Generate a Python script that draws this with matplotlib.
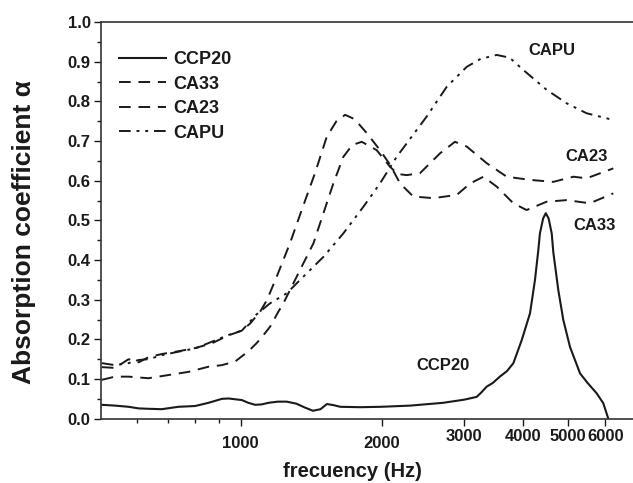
import matplotlib
matplotlib.use('Agg')
import matplotlib.pyplot as plt
from matplotlib.ticker import FixedLocator, MultipleLocator, NullFormatter
from matplotlib.transforms import ScaledTranslation

plt.rcParams['font.family'] = ['Liberation Sans', 'DejaVu Sans']
plt.rcParams['font.weight'] = 'bold'

# Datos (frecuencia en Hz, coeficiente de absorción)
ccp20_f = [505, 539, 576, 605, 635, 678, 736, 799, 853, 911, 941, 972, 1005, 1038,
           1073, 1108, 1145, 1200, 1253, 1313, 1371, 1426, 1480, 1527, 1580, 1630,
           1800, 1990, 2300, 2700, 3000, 3188, 3260, 3350, 3450, 3572, 3700, 3818,
           3978, 4144, 4246, 4316, 4350, 4420, 4477, 4540, 4610, 4646, 4762, 4880,
           5043, 5300, 5500, 5750, 5940, 6088]
ccp20_a = [0.035, 0.033, 0.030, 0.026, 0.025, 0.024, 0.030, 0.032, 0.040, 0.050,
           0.051, 0.049, 0.047, 0.040, 0.035, 0.036, 0.040, 0.043, 0.043, 0.038,
           0.028, 0.020, 0.024, 0.037, 0.034, 0.030, 0.029, 0.030, 0.033, 0.040,
           0.048, 0.055, 0.066, 0.081, 0.090, 0.106, 0.120, 0.140, 0.198, 0.266,
           0.350, 0.425, 0.467, 0.505, 0.518, 0.505, 0.467, 0.420, 0.324, 0.249,
           0.181, 0.114, 0.090, 0.064, 0.039, 0.000]

ca33_f = [505, 539, 576, 605, 635, 678, 736, 799, 867, 941, 1005, 1047, 1100, 1137,
          1193, 1274, 1349, 1440, 1526, 1600, 1670, 1750, 1857, 1982, 2083, 2188,
          2335, 2577, 2890, 3087, 3295, 3518, 3818, 4074, 4497, 4963, 5560, 6239]
ca33_a = [0.130, 0.128, 0.150, 0.142, 0.155, 0.163, 0.170, 0.178, 0.190, 0.210,
          0.222, 0.240, 0.270, 0.299, 0.358, 0.443, 0.526, 0.619, 0.711, 0.750,
          0.766, 0.755, 0.720, 0.677, 0.640, 0.593, 0.560, 0.556, 0.564, 0.593,
          0.610, 0.585, 0.543, 0.526, 0.547, 0.551, 0.543, 0.568]

ca23_f = [505, 539, 576, 635, 700, 773, 853, 911, 972, 1038, 1080, 1108, 1155, 1203,
          1233, 1338, 1429, 1501, 1576, 1655, 1730, 1812, 1950, 2083, 2160, 2260,
          2413, 2663, 2865, 3036, 3350, 3695, 4143, 4645, 5127, 5472, 6239]
ca23_a = [0.098, 0.106, 0.106, 0.102, 0.110, 0.118, 0.131, 0.135, 0.144, 0.170,
          0.190, 0.205, 0.232, 0.270, 0.291, 0.375, 0.442, 0.518, 0.593, 0.660,
          0.690, 0.698, 0.677, 0.635, 0.617, 0.614, 0.619, 0.669, 0.698, 0.686,
          0.644, 0.610, 0.602, 0.597, 0.610, 0.606, 0.631]

capu_f = [505, 539, 576, 605, 635, 678, 736, 799, 867, 941, 1005, 1047, 1073, 1155,
          1253, 1360, 1501, 1655, 1826, 1982, 2151, 2260, 2491, 2753, 3036, 3250,
          3518, 3750, 4010, 4497, 4963, 5472, 6239]
capu_a = [0.140, 0.135, 0.140, 0.148, 0.150, 0.160, 0.169, 0.177, 0.194, 0.211,
          0.222, 0.245, 0.260, 0.291, 0.316, 0.358, 0.408, 0.467, 0.534, 0.593,
          0.660, 0.694, 0.761, 0.837, 0.887, 0.907, 0.917, 0.910, 0.879, 0.829,
          0.795, 0.770, 0.753]

x_ticks = [1000, 2000, 3000, 4000, 5000, 6000]
x_minor = [600, 700, 800, 900]

ink = '#1a1a1a'

fig = plt.figure(figsize=(6.33, 4.83), dpi=100, facecolor='white')
ax = fig.add_axes([101 / 633, 64.3 / 483, 532 / 633, 396.7 / 483])

ax.plot(ccp20_f, ccp20_a, color=ink, lw=1.5, ls='-', label='CCP20')
ax.plot(ca33_f, ca33_a, color=ink, lw=1.4, ls=(0, (6, 4)), label='CA33')
ax.plot(ca23_f, ca23_a, color=ink, lw=1.4, ls=(0, (6, 4)), label='CA23')
ax.plot(capu_f, capu_a, color=ink, lw=1.4, ls=(0, (6, 3, 1.5, 3, 1.5, 3)), label='CAPU')

ax.set_xscale('log')
ax.set_xlim(503, 6874)
ax.set_ylim(0, 1.0)

ax.xaxis.set_major_locator(FixedLocator(x_ticks))
ax.xaxis.set_minor_locator(FixedLocator(x_minor))
ax.xaxis.set_minor_formatter(NullFormatter())
ax.set_xticklabels([str(t) for t in x_ticks])
ax.yaxis.set_major_locator(MultipleLocator(0.1))
ax.yaxis.set_minor_locator(MultipleLocator(0.05))
ax.yaxis.set_major_formatter(plt.FuncFormatter(lambda v, p: f'{v:.1f}'))

ax.tick_params(which='both', direction='out', color=ink, width=1,
               labelsize=12, labelcolor=ink, top=False, right=False)
ax.tick_params(which='major', length=5, pad=2.5)
ax.tick_params(which='minor', length=3)
for lab in ax.get_xticklabels() + ax.get_yticklabels():
    lab.set_fontweight('bold')

ax.spines['right'].set_visible(False)
for s in ['left', 'bottom', 'top']:
    ax.spines[s].set_color('#333333')
    ax.spines[s].set_linewidth(1.2)

ax.set_xlabel('frecuency (Hz)', fontsize=14.5, fontweight='bold', color=ink)
ax.xaxis.set_label_coords(0.472, -0.108)
ax.set_ylabel('Absorption coefficient α', fontsize=19, fontweight='bold', color=ink)
ax.yaxis.set_label_coords(-0.122, 0.47)

leg = ax.legend(loc='upper left', bbox_to_anchor=(0.02, 0.945), frameon=False,
                fontsize=13, handlelength=2.6, handletextpad=0.4, labelspacing=0.42,
                borderaxespad=0)
for t in leg.get_texts():
    t.set_fontweight('bold')
    t.set_color(ink)

# Etiquetas de las curvas
for name, fx, ay in [('CAPU', 4617, 0.929), ('CA23', 5483, 0.66),
                     ('CA33', 5703, 0.486), ('CCP20', 2702, 0.133)]:
    ax.text(fx, ay, name, fontsize=12, fontweight='bold', color=ink,
            ha='center', va='center')

# en el original, 1000 y 2000 quedan algo más abajo que el resto
fig.canvas.draw()
bajar = ScaledTranslation(0, -5 / 72, fig.dpi_scale_trans)
for lab in ax.get_xticklabels()[:2]:
    lab.set_transform(lab.get_transform() + bajar)

fig.savefig('out.png', dpi=100, facecolor='white')
